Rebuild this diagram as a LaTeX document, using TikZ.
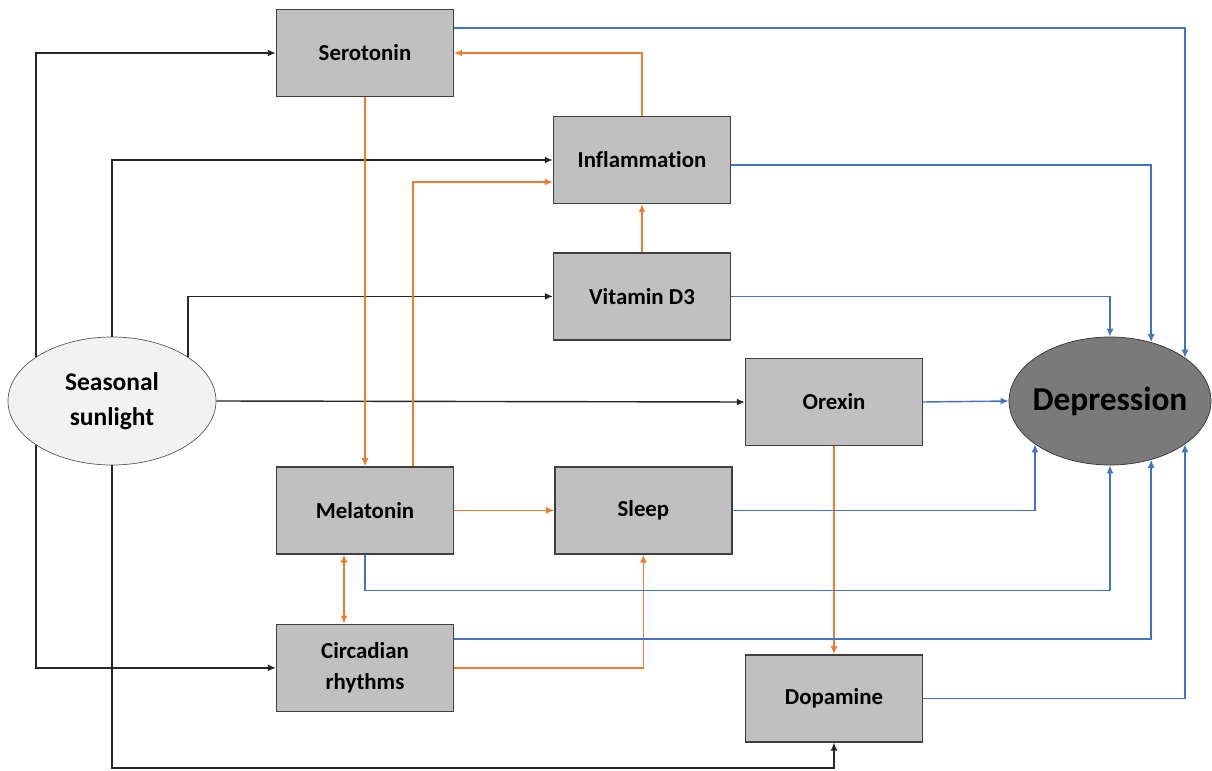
\documentclass[tikz,border=0pt]{standalone}
\usepackage{fontspec}
\setmainfont{Carlito}[Ligatures={NoCommon}]
\usetikzlibrary{arrows.meta,positioning,shapes.geometric}
\definecolor{boxgray}{HTML}{C0C0C0}
\definecolor{sungray}{HTML}{F2F2F2}
\definecolor{deprgray}{HTML}{7A7A7A}
\definecolor{linorange}{HTML}{ED7D31}
\definecolor{linblue}{HTML}{4472C4}
\begin{document}
\begin{tikzpicture}[
fator/.style={draw=black!75, fill=boxgray, align=center, minimum height=1.74cm, minimum width=3.54cm, line width=0.8pt, font=\bfseries\fontsize{13}{17.6}\selectfont},
fonte/.style={ellipse, draw=black!65, fill=sungray, align=center, minimum width=4.16cm, minimum height=2.56cm, inner sep=0pt, font=\bfseries\fontsize{14.5}{19.9}\selectfont},
saida/.style={ellipse, draw=black!80, fill=deprgray, minimum width=4.04cm, minimum height=2.56cm, inner xsep=-4pt, inner ysep=0pt, font=\bfseries\fontsize{19}{22}\selectfont},
sbk/.style={-{Latex[length=1.6mm,width=1.4mm]}, line width=0.8pt, draw=black!85},
sor/.style={-{Latex[length=1.6mm,width=1.4mm]}, line width=0.8pt, draw=linorange},
sbl/.style={-{Latex[length=1.6mm,width=1.4mm]}, line width=0.8pt, draw=linblue}
]
\useasboundingbox (0,0) rectangle (24.24,-15.42);
\node[fator] (sero) at (7.30,-1.06) {Serotonin};
\node[fator, below=7.38cm of sero] (mela) {Melatonin};
\node[fator, below=1.38cm of mela] (circ) {Circadian\\rhythms};
\node[fator, right=2.0cm of mela] (sleep) {Sleep};
\node[fator] (infl) at (12.84,-3.20) {Inflammation};
\node[fator, below=0.96cm of infl] (vitd) {Vitamin D3};
\node[fator] (orex) at (16.68,-8.04) {Orexin};
\node[fator, below=4.16cm of orex] (dopa) {Dopamine};
\node[fonte] (sun) at (2.24,-8.02) {Seasonal\\sunlight};
\node[saida] (depr) at (22.20,-8.02) {Depression};
\coordinate (fundo) at (0,-15.36);
% sunlight to the factors
\draw[sbk] (sun.150) |- (sero.west);
\draw[sbk] (sun.north) |- (infl.west);
\draw[sbk] (sun.30) |- (vitd.west);
\draw[sbk] (sun.east) -- (orex.west);
\draw[sbk] (sun.210) |- (circ.west);
\draw[sbk] (sun.south) -- (sun.south |- fundo) -| (dopa.south);
% links between factors
\draw[sor] (sero.south) -- (mela.north);
\draw[sor] ([xshift=0.96cm]mela.north) |- ([yshift=-0.44cm]infl.west);
\draw[sor] (infl.north) |- (sero.east);
\draw[sor] (vitd.north) -- (infl.south);
\draw[sor] (mela.east) -- (sleep.west);
\draw[sor, {Latex[length=1.6mm,width=1.4mm]}-{Latex[length=1.6mm,width=1.4mm]}] ([xshift=-0.42cm]mela.south) -- ([xshift=-0.42cm]circ.north);
\draw[sor] (circ.east) -| (sleep.south);
\draw[sor] (orex.south) -- (dopa.north);
% factors to depression
\draw[sbl] ([yshift=0.5cm]sero.east) -| (depr.30);
\draw[sbl] ([yshift=-0.1cm]infl.east) -| (depr.55);
\draw[sbl] (vitd.east) -| (depr.north);
\draw[sbl] (orex.east) -- (depr.west);
\draw[sbl] (sleep.east) -| (depr.210);
\draw[sbl] (mela.south) -- ++(0,-0.72) -| (depr.south);
\draw[sbl] ([yshift=0.58cm]circ.east) -| (depr.-55);
\draw[sbl] (dopa.east) -| (depr.-30);
\end{tikzpicture}
\end{document}
